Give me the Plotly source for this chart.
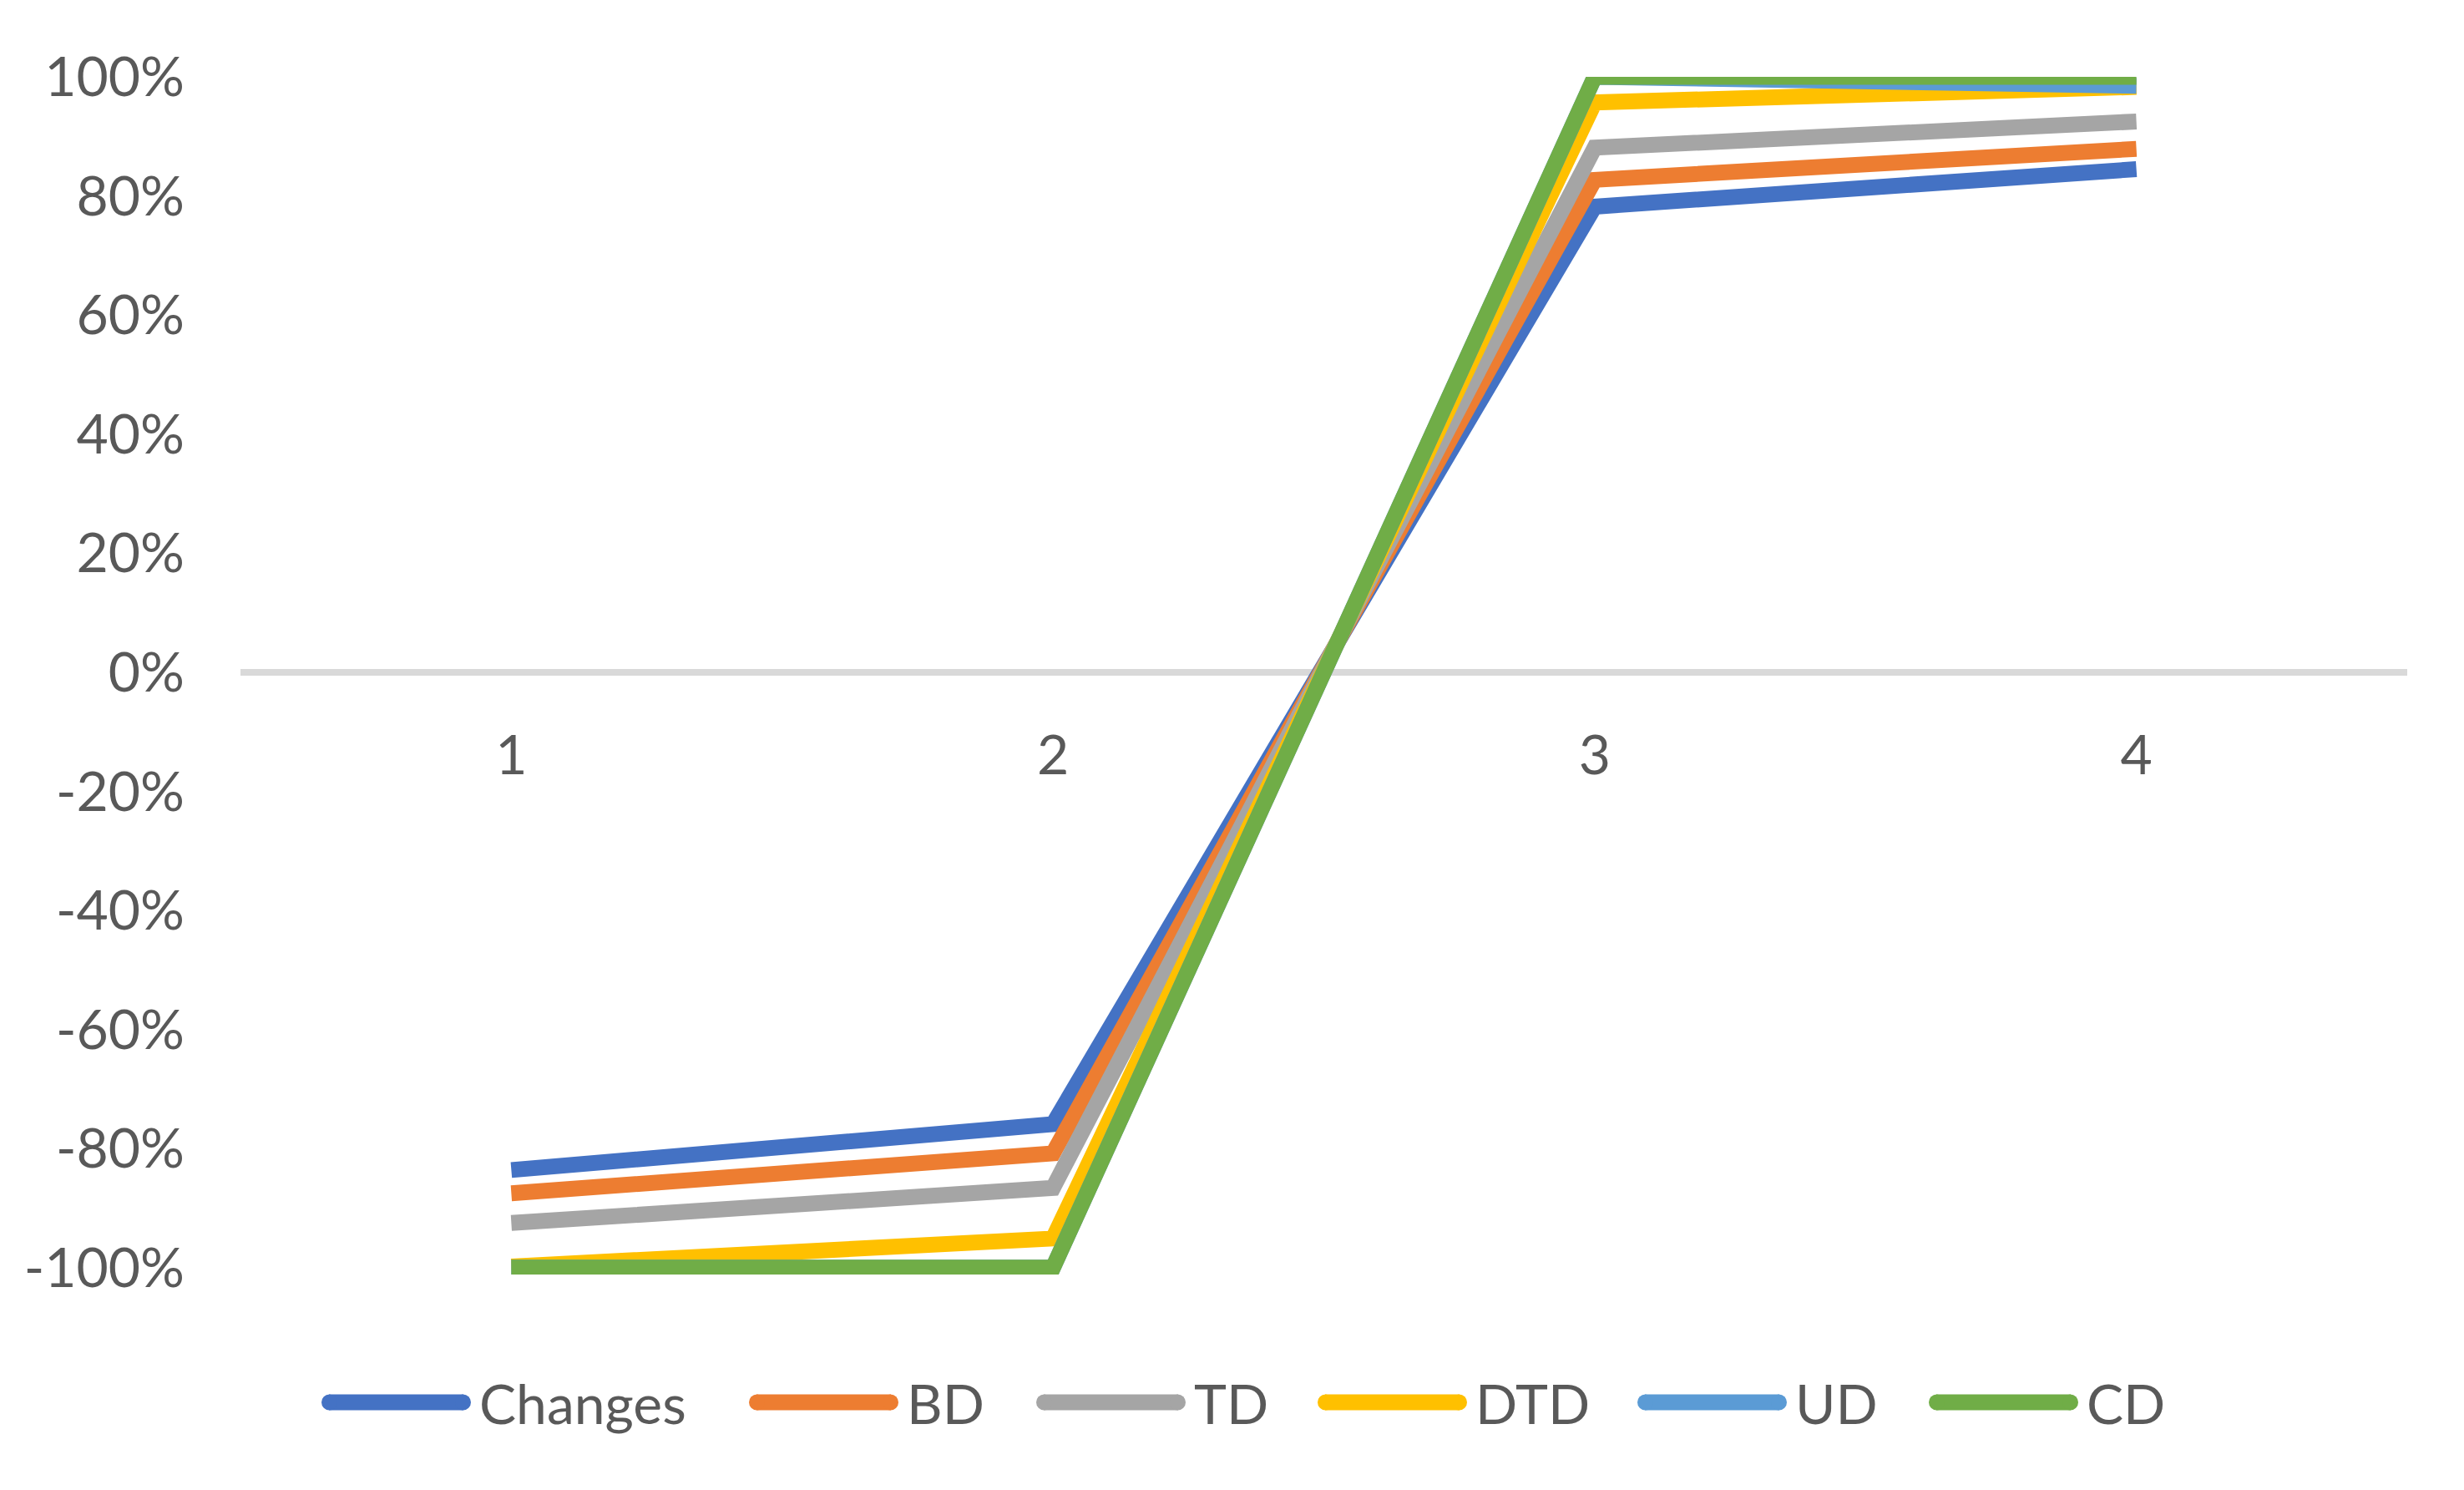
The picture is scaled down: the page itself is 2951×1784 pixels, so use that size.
import plotly.graph_objects as go

# ---------------- data ----------------
categories = ["1", "2", "3", "4"]
series_names = ["Changes", "BD", "TD", "DTD", "UD", "CD"]
changes = [-0.836, -0.759, 0.782, 0.845]
bd = [-0.875, -0.808, 0.827, 0.879]
td = [-0.925, -0.866, 0.881, 0.925]
dtd = [-0.998, -0.951, 0.957, 0.983]
ud = [-1.00, -1.00, 1.00, 0.985]
cd = [-1.00, -1.00, 1.00, 1.00]
series_values = [changes, bd, td, dtd, ud, cd]
y_tick_vals = [-1.0, -0.8, -0.6, -0.4, -0.2, 0.0, 0.2, 0.4, 0.6, 0.8, 1.0]
y_tick_text = ["-100%", "-80%", "-60%", "-40%", "-20%", "0%", "20%", "40%", "60%", "80%", "100%"]

# ---------------- style ----------------
colors = ["#4472C4", "#ED7D31", "#A5A5A5", "#FFC000", "#5B9BD5", "#70AD47"]
W, H = 2951, 1784
Y_MIN, Y_MAX = -1.0115, 1.0
ML, MR, MT, MB = 288, 68, 92, 258
FONT = "Lato"
TXT = "#595959"
LW = 19

fig = go.Figure()
for name, vals, col in zip(series_names, series_values, colors):
    fig.add_trace(go.Scatter(
        x=categories, y=vals, name=name, mode="lines",
        line=dict(color=col, width=LW), showlegend=False,
        hoverinfo="x+y+name",
    ))

# custom legend (long line samples like the original)
plot_w = W - ML - MR
plot_h = H - MT - MB
def px_x(px):
    return (px - ML) / plot_w
def px_y(py):
    return (H - MB - py) / plot_h

legend_starts = [385, 897, 1241, 1578, 1961, 2310]
sym_len = 179
leg_y = 1679
shapes = []
annotations = []
for name, col, x0 in zip(series_names, colors, legend_starts):
    shapes.append(dict(type="line", xref="paper", yref="paper",
                       x0=px_x(x0 + 9), x1=px_x(x0 + sym_len - 9),
                       y0=px_y(leg_y), y1=px_y(leg_y),
                       line=dict(color=col, width=LW)))
    shapes.append(dict(type="circle", xref="paper", yref="paper",
                       x0=px_x(x0), x1=px_x(x0 + 19),
                       y0=px_y(leg_y + 9.5), y1=px_y(leg_y - 9.5),
                       fillcolor=col, line=dict(width=0)))
    shapes.append(dict(type="circle", xref="paper", yref="paper",
                       x0=px_x(x0 + sym_len - 19), x1=px_x(x0 + sym_len),
                       y0=px_y(leg_y + 9.5), y1=px_y(leg_y - 9.5),
                       fillcolor=col, line=dict(width=0)))
    annotations.append(dict(xref="paper", yref="paper",
                            x=px_x(x0 + sym_len + 8), y=px_y(leg_y),
                            xanchor="left", yanchor="middle", showarrow=False,
                            text=name, font=dict(family=FONT, size=66, color=TXT)))

zero_pos = (0 - Y_MIN) / (Y_MAX - Y_MIN)

fig.update_layout(
    width=W, height=H, autosize=False,
    margin=dict(l=ML, r=MR, t=MT, b=MB, pad=0),
    paper_bgcolor="white", plot_bgcolor="white",
    font=dict(family=FONT, size=66, color=TXT),
    shapes=shapes, annotations=annotations,
    showlegend=False,
    xaxis=dict(type="category", range=[-0.5, 3.5], anchor="free", position=zero_pos,
               showgrid=False, zeroline=False, showline=False, ticks="",
               tickfont=dict(family=FONT, size=66, color=TXT),
               ticklabelstandoff=55),
    yaxis=dict(range=[Y_MIN, Y_MAX], tickvals=y_tick_vals, ticktext=y_tick_text,
               showgrid=False, zeroline=True, zerolinecolor="#D9D9D9", zerolinewidth=8,
               showline=False, ticks="",
               tickfont=dict(family=FONT, size=66, color=TXT),
               ticklabelstandoff=66),
)

fig.write_html("out.html", config={"displayModeBar": False},
               post_script="document.body.style.margin='0';")
